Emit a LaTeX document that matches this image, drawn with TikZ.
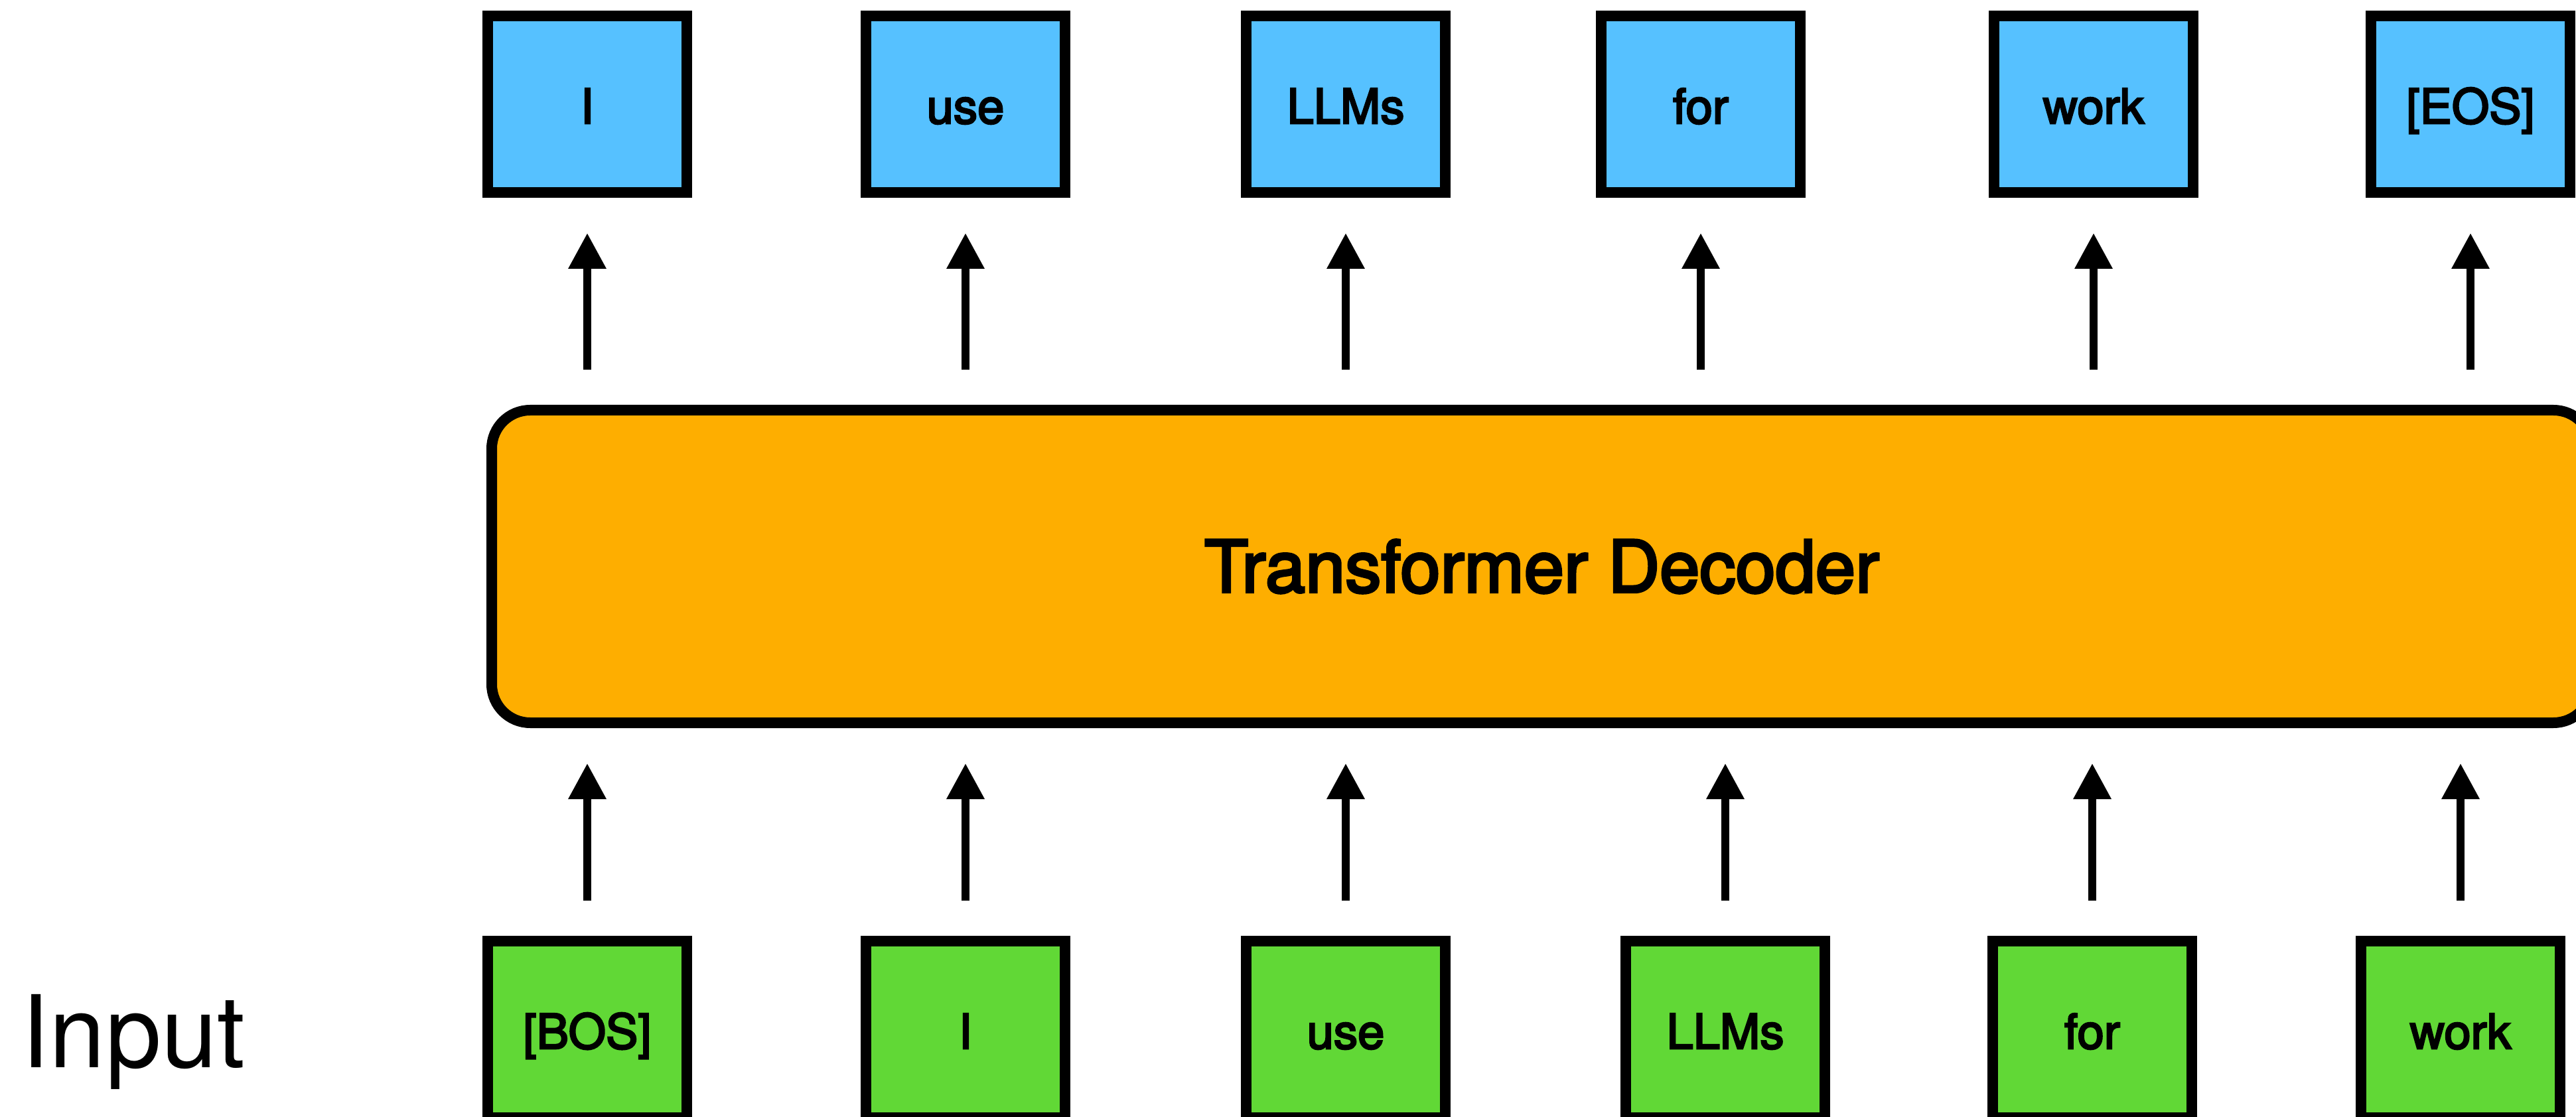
\documentclass[tikz,border=0pt]{standalone}
\usepackage{fontspec}
\setmainfont{TeX Gyre Heros}
\newfontfamily\labelfont[FakeBold=3.5]{TeX Gyre Heros}
\usetikzlibrary{arrows.meta}
\definecolor{outblue}{HTML}{56C1FF}
\definecolor{ingreen}{HTML}{61D836}
\definecolor{decorange}{HTML}{FEAE00}

\begin{document}
\begin{tikzpicture}
				\tikzstyle{tok}=[rectangle, draw, line width=0.16cm, minimum width=3cm, minimum height=2.66cm, inner sep=0pt, text height=0.70cm, text depth=0.12cm, font=\labelfont\fontsize{20.6}{24}\selectfont]
				\tikzstyle{outtok}=[tok, fill=outblue]
				\tikzstyle{intok}=[tok, fill=ingreen]
				\tikzstyle{decbox}=[rectangle, draw, line width=0.16cm, rounded corners=0.58cm, fill=decorange, minimum width=31.65cm, minimum height=4.71cm, font=\labelfont\fontsize{30.8}{36}\selectfont]
				\tikzstyle{arr}=[-{Triangle[length=0.54cm,width=0.54cm]}, line width=0.126cm, shorten <=0.53cm, shorten >=0.53cm]
				\useasboundingbox (0,0) rectangle (38.82,16.82);
				\node[decbox] (dec) at (23.235,8.285) {Transformer Decoder};
				\node[outtok] (out1) at (8.85,15.25) {I};
				\node[outtok] (out2) at (14.55,15.25) {use};
				\node[outtok] (out3) at (20.28,15.25) {LLMs};
				\node[outtok] (out4) at (25.63,15.25) {for};
				\node[outtok] (out5) at (31.55,15.25) {work};
				\node[outtok] (out6) at (37.23,15.25) {[EOS]};
				\node[intok] (in1) at (8.85,1.31) {[BOS]};
				\node[intok] (in2) at (14.55,1.31) {I};
				\node[intok] (in3) at (20.28,1.31) {use};
				\node[intok] (in4) at (26.00,1.31) {LLMs};
				\node[intok] (in5) at (31.53,1.31) {for};
				\node[intok] (in6) at (37.08,1.31) {work};
				\node[anchor=base west, inner sep=0pt, font=\fontsize{43}{50}\selectfont] (lbl) at (0.32,0.74) {Input};
				\draw[arr] (in1.north) -- (in1.north |- dec.south);
				\draw[arr] (in2.north) -- (in2.north |- dec.south);
				\draw[arr] (in3.north) -- (in3.north |- dec.south);
				\draw[arr] (in4.north) -- (in4.north |- dec.south);
				\draw[arr] (in5.north) -- (in5.north |- dec.south);
				\draw[arr] (in6.north) -- (in6.north |- dec.south);
				\draw[arr] (out1.south |- dec.north) -- (out1.south);
				\draw[arr] (out2.south |- dec.north) -- (out2.south);
				\draw[arr] (out3.south |- dec.north) -- (out3.south);
				\draw[arr] (out4.south |- dec.north) -- (out4.south);
				\draw[arr] (out5.south |- dec.north) -- (out5.south);
				\draw[arr] (out6.south |- dec.north) -- (out6.south);
			\end{tikzpicture}
\end{document}
